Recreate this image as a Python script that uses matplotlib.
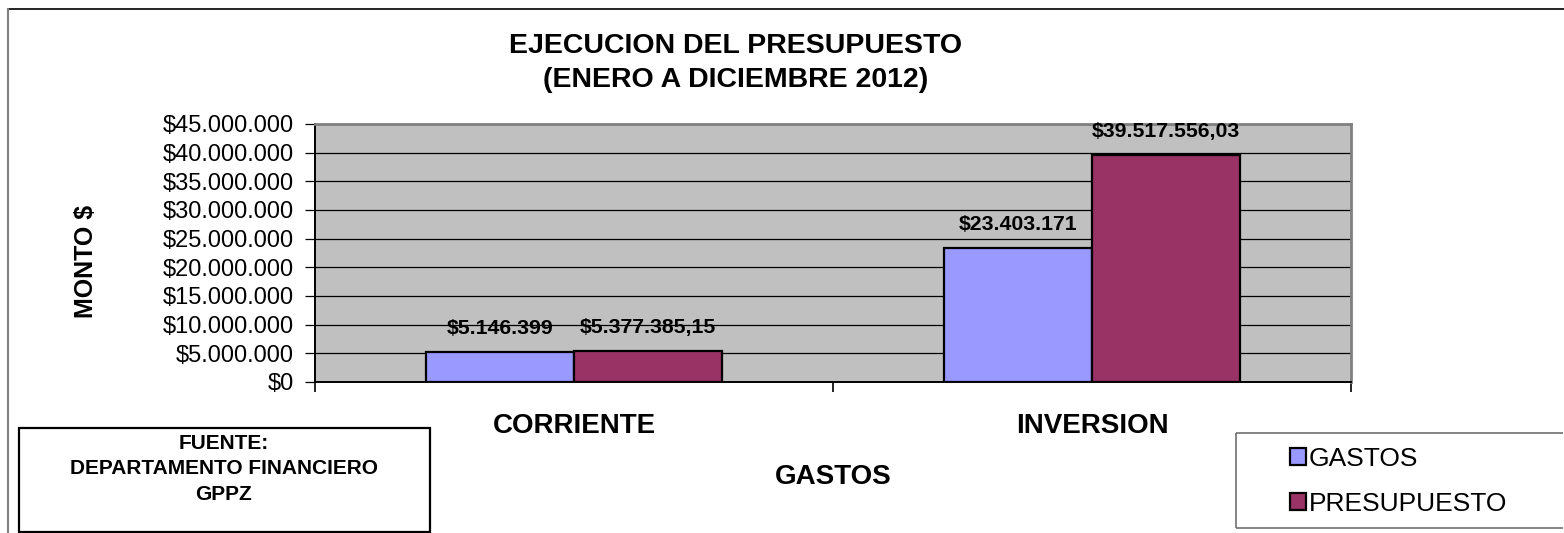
import matplotlib
matplotlib.use("Agg")
import matplotlib.pyplot as plt
import matplotlib.patches as patches
from matplotlib.lines import Line2D
from matplotlib.ticker import FuncFormatter

plt.rcParams["font.family"] = ["Liberation Sans", "DejaVu Sans"]

# data
categories = ["CORRIENTE", "INVERSION"]
series_names = ["GASTOS", "PRESUPUESTO"]
gastos = [5146399, 23403171]
presupuesto = [5377385.15, 39517556.03]
decimals = [0, 2]  # decimals shown in each series' labels
colors = ["#9999FF", "#993366"]

W, H = 1564, 533
fig = plt.figure(figsize=(W / 100, H / 100), dpi=100)


def fx(px):
    return px / W


def fy(py):
    return 1 - py / H


def money(v, dec=0):
    s = f"{v:,.{dec}f}"
    s = s.replace(",", "X").replace(".", ",").replace("X", ".")
    return "$" + s


# outer chart frame
fig.add_artist(Line2D([fx(8), 1.0], [fy(9), fy(9)], color="black", lw=1.2))
fig.add_artist(Line2D([fx(8), fx(8)], [fy(9), 0.0], color="#808080", lw=1.5))

ax = fig.add_axes([fx(315), fy(382), fx(1351) - fx(315), fy(124) - fy(382)])
ax.set_facecolor("#C0C0C0")

x = list(range(len(categories)))
bw = 0.286
for i, (vals, name, col) in enumerate(zip([gastos, presupuesto], series_names, colors)):
    xs = [xi + (i - 0.5) * bw for xi in x]
    bars = ax.bar(xs, vals, width=bw, color=col, edgecolor="black", linewidth=1.6,
                  label=name, zorder=3)
    for b, v in zip(bars, vals):
        ax.annotate(money(v, decimals[i]), (b.get_x() + b.get_width() / 2, v),
                    xytext=(0, 17), textcoords="offset points", ha="center", va="center",
                    fontsize=15.3, fontweight="bold", zorder=4)

ax.set_ylim(0, 45_000_000)
ax.set_yticks(range(0, 45_000_001, 5_000_000))
ax.yaxis.set_major_formatter(FuncFormatter(lambda v, p: money(v)))
ax.yaxis.grid(True, color="black", linewidth=0.9, zorder=1)
ax.set_axisbelow(True)
ax.tick_params(axis="y", labelsize=17, length=7, width=0.9, pad=8)

ax.set_xlim(-0.5, len(categories) - 0.5)
ax.set_xticks(x)
ax.set_xticklabels(categories, fontsize=20, fontweight="bold")
ax.tick_params(axis="x", length=0, pad=22)
ax.set_xticks([i - 0.5 for i in range(len(categories) + 1)], minor=True)
ax.tick_params(axis="x", which="minor", length=7, width=1.2)

for s in ["top", "right"]:
    ax.spines[s].set_color("#808080")
    ax.spines[s].set_linewidth(2)
for s in ["left", "bottom"]:
    ax.spines[s].set_color("black")
    ax.spines[s].set_linewidth(1.4)

ax.set_xlabel("GASTOS", fontsize=20, fontweight="bold")
ax.xaxis.set_label_coords(0.5, (382 - 477) / 258)
ax.xaxis.label.set_va("center")
ax.set_ylabel("MONTO $", fontsize=18, fontweight="bold")
ax.yaxis.set_label_coords((86 - 315) / 1036, (382 - 261) / 258)
ax.yaxis.label.set_va("center")

# title
fig.text(fx(736), fy(63), "EJECUCION DEL PRESUPUESTO\n(ENERO A DICIEMBRE 2012)",
         ha="center", va="center", fontsize=20.5, fontweight="bold", linespacing=1.4)

# source box
fig.add_artist(patches.Rectangle((fx(19), fy(532)), fx(430) - fx(19), fy(428) - fy(532),
                                 transform=fig.transFigure, fill=False,
                                 edgecolor="black", linewidth=1.6))
fig.text(fx(224), fy(469), "FUENTE:\nDEPARTAMENTO FINANCIERO\nGPPZ", ha="center",
         va="center", fontsize=15, fontweight="bold", linespacing=1.45)

# legend frame (runs off the right edge, so no right side)
for seg_x, seg_y in [([fx(1236), fx(1563)], [fy(433), fy(433)]),
                     ([fx(1236), fx(1236)], [fy(433), fy(528)]),
                     ([fx(1236), fx(1563)], [fy(528), fy(528)])]:
    fig.add_artist(Line2D(seg_x, seg_y, color="#707070", lw=1.2, solid_capstyle="butt"))
handles, labels = ax.get_legend_handles_labels()
fig.legend(handles, labels, loc="upper left", bbox_to_anchor=(fx(1290), fy(447)),
           frameon=False, fontsize=19, handlelength=0.6, handleheight=0.6,
           handletextpad=0.12, labelspacing=0.78, borderpad=0, borderaxespad=0)

fig.savefig("out.png", dpi=100)
